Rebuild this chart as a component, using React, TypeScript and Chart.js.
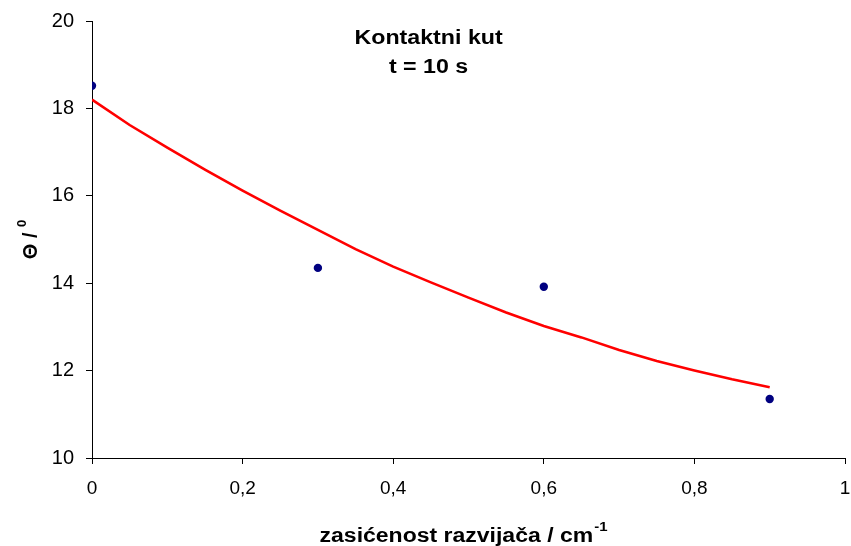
import React, { useEffect, useRef } from "react";
import { Chart, registerables } from "chart.js";

Chart.register(...registerables);

// Measured data points
const pointX = [0, 0.3, 0.6, 0.9];
const pointY = [18.52, 14.35, 13.92, 11.35];

// Trend line
const trendX = [0, 0.05, 0.1, 0.15, 0.2, 0.25, 0.3, 0.35, 0.4, 0.45, 0.5, 0.55, 0.6, 0.65, 0.7, 0.75, 0.8, 0.85, 0.9];
const trendY = [18.2, 17.62, 17.1, 16.6, 16.12, 15.66, 15.22, 14.78, 14.38, 14.02, 13.67, 13.33, 13.02, 12.76, 12.47, 12.22, 12.0, 11.8, 11.62];

const xTicks = [0, 0.2, 0.4, 0.6, 0.8, 1];
const yTicks = [10, 12, 14, 16, 18, 20];

const titleLines = ["Kontaktni kut", "t = 10 s"];
const xTitle = "zasićenost razvijača / cm";
const xTitleSup = "-1";
const yTitle = "Θ / ";
const yTitleSup = "0";

const FONT = "Arial, 'Liberation Sans', sans-serif";

const textPlugin = {
  id: "customText",
  afterDraw(chart: any) {
    const ctx = chart.ctx as CanvasRenderingContext2D;
    const area = chart.chartArea;
    ctx.save();
    ctx.fillStyle = "#000";
    // Title (horizontally stretched like the original)
    const stretch = 1.16;
    ctx.font = `bold 20px ${FONT}`;
    ctx.textAlign = "center";
    ctx.textBaseline = "middle";
    const tx = area.left + (area.right - area.left) * 0.447;
    titleLines.forEach((line, i) => {
      ctx.save();
      ctx.translate(tx, 38 + i * 29);
      ctx.scale(stretch, 1);
      ctx.fillText(line, 0, 0);
      ctx.restore();
    });

    // X axis title
    const xs = 1.15;
    ctx.save();
    ctx.font = `bold 20px ${FONT}`;
    const mainW = ctx.measureText(xTitle).width;
    ctx.font = `bold 13px ${FONT}`;
    const supW = ctx.measureText(xTitleSup).width;
    const total = (mainW + supW) * xs;
    const cx = 463;
    ctx.translate(cx - total / 2, 542);
    ctx.scale(xs, 1);
    ctx.textAlign = "left";
    ctx.textBaseline = "alphabetic";
    ctx.font = `bold 20px ${FONT}`;
    ctx.fillText(xTitle, 0, 0);
    ctx.font = `bold 13px ${FONT}`;
    ctx.fillText(xTitleSup, mainW + 1, -11);
    ctx.restore();

    // Y axis title (rotated)
    ctx.save();
    ctx.font = `bold 20px ${FONT}`;
    const yMainW = ctx.measureText(yTitle).width;
    ctx.font = `bold 13px ${FONT}`;
    const ySupW = ctx.measureText(yTitleSup).width;
    const yTotal = yMainW + ySupW;
    const cy = (area.top + area.bottom) / 2;
    ctx.translate(37, cy + yTotal / 2);
    ctx.rotate(-Math.PI / 2);
    ctx.textAlign = "left";
    ctx.textBaseline = "alphabetic";
    ctx.font = `bold 20px ${FONT}`;
    ctx.fillText(yTitle, 0, 0);
    ctx.font = `bold 13px ${FONT}`;
    ctx.fillText(yTitleSup, yMainW, -11);
    ctx.restore();

    ctx.restore();
  },
};

export default function App() {
  const canvasRef = useRef<HTMLCanvasElement | null>(null);

  useEffect(() => {
    document.body.style.margin = "0";
    const canvas = canvasRef.current;
    if (!canvas) return;
    const chart = new Chart(canvas, {
      type: "scatter",
      data: {
        datasets: [
          {
            label: "trend",
            data: trendX.map((x, i) => ({ x, y: trendY[i] })),
            showLine: true,
            borderColor: "#FF0000",
            borderWidth: 2.6,
            pointRadius: 0,
            fill: false,
            tension: 0,
            order: 2,
          },
          {
            label: "points",
            data: pointX.map((x, i) => ({ x, y: pointY[i] })),
            backgroundColor: "#000080",
            borderColor: "#000080",
            pointRadius: 4.2,
            pointBorderWidth: 0,
            order: 1,
          },
        ],
      },
      options: {
        animation: false,
        responsive: false,
        devicePixelRatio: 1,
        layout: { padding: { top: 21, right: 6, left: 0, bottom: 0 } },
        plugins: {
          legend: { display: false },
          tooltip: { enabled: false },
          title: { display: false },
        },
        scales: {
          x: {
            type: "linear",
            min: 0,
            max: 1,
            afterBuildTicks: (scale: any) => {
              scale.ticks = xTicks.map((v) => ({ value: v }));
            },
            afterFit: (scale: any) => {
              scale.height = 88;
              scale.paddingRight = 0;
              scale.paddingLeft = 0;
            },
            ticks: {
              font: { family: FONT, size: 19 },
              color: "#000",
              padding: 13,
              maxRotation: 0,
              callback: (v: any) => String(v).replace(".", ","),
            },
            grid: {
              display: true,
              drawOnChartArea: false,
              drawTicks: true,
              tickLength: 6,
              color: "#000",
            },
            border: { display: true, color: "#000", width: 1 },
          },
          y: {
            type: "linear",
            min: 10,
            max: 20,
            afterBuildTicks: (scale: any) => {
              scale.ticks = yTicks.map((v) => ({ value: v }));
            },
            afterFit: (scale: any) => {
              scale.width = 92;
              scale.paddingTop = 0;
              scale.paddingBottom = 0;
            },
            ticks: {
              font: { family: FONT, size: 20 },
              color: "#000",
              padding: 12,
            },
            grid: {
              display: true,
              drawOnChartArea: false,
              drawTicks: true,
              tickLength: 6,
              color: "#000",
            },
            border: { display: true, color: "#000", width: 1 },
          },
        },
      },
      plugins: [textPlugin],
    });
    return () => chart.destroy();
  }, []);

  return (
    <div style={{ width: 851, height: 546, background: "#fff" }}>
      <canvas ref={canvasRef} width={851} height={546} style={{ width: 851, height: 546, display: "block" }} />
    </div>
  );
}
